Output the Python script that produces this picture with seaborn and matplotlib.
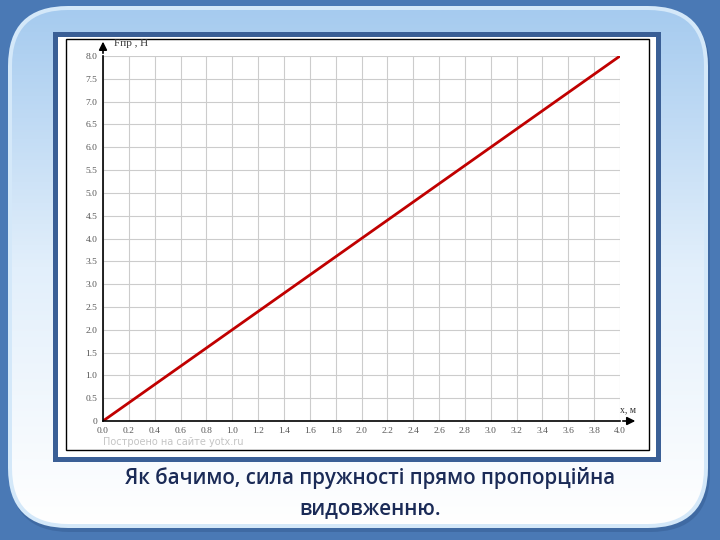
import numpy as np
import pandas as pd
import seaborn as sns
import matplotlib.pyplot as plt
from matplotlib.colors import LinearSegmentedColormap
from matplotlib.patches import FancyBboxPatch, Rectangle

# data: straight line through the origin
x_vals = [0.0, 4.0]
f_vals = [0.0, 8.0]
x_ticks = [round(0.2 * i, 1) for i in range(21)]
y_ticks = [0.5 * i for i in range(17)]
x_labels = [f"{t:.1f}" for t in x_ticks]
y_labels = ["0"] + [f"{t:.1f}" for t in y_ticks[1:]]

caption = "Як бачимо, сила пружності прямо пропорційна\nвидовженню."

df = pd.DataFrame({"x": x_vals, "F": f_vals})

sns.set_theme(style="whitegrid")
plt.rcParams['font.family'] = ['Liberation Serif', 'DejaVu Serif']

W, H = 720, 540
fig = plt.figure(figsize=(7.2, 5.4), dpi=100)
fig.patch.set_facecolor('#4a79b5')

# background layer in pixel coordinates
bg = fig.add_axes([0, 0, 1, 1], zorder=0)
bg.axis('off')

# soft darker shadow under the panel
bg.add_patch(FancyBboxPatch((10, 10), 700, 522, boxstyle="round,pad=0,rounding_size=60",
                            facecolor='#3f6aa3', edgecolor='none', zorder=1))
# light rim
bg.add_patch(FancyBboxPatch((8, 6), 700, 522, boxstyle="round,pad=0,rounding_size=60",
                            facecolor='#d4e8f9', edgecolor='none', zorder=2))
# gradient fill
clip = FancyBboxPatch((12, 10), 692, 514, boxstyle="round,pad=0,rounding_size=56",
                      facecolor='none', edgecolor='none', zorder=2)
bg.add_patch(clip)
grad = np.linspace(0, 1, 256).reshape(-1, 1)
cmap = LinearSegmentedColormap.from_list("g", ['#a6cbef', '#e2effb', '#ffffff'])
im = bg.imshow(grad, aspect='auto', cmap=cmap, extent=[12, 704, 524, 10], zorder=3)
im.set_clip_path(clip)

# dark blue frame and white chart card
bg.add_patch(Rectangle((53, 32), 608, 430, facecolor='#3a5f96', edgecolor='none', zorder=4))
bg.add_patch(Rectangle((58, 37), 598, 420, facecolor='white', edgecolor='none', zorder=5))
bg.add_patch(Rectangle((66, 39), 583, 411, facecolor='white', edgecolor='black',
                       linewidth=1, zorder=6))
bg.set_xlim(0, W)
bg.set_ylim(H, 0)

ax = fig.add_axes([103 / W, 1 - 421 / H, 517 / W, 365 / H], zorder=3)
ax.set_facecolor('none')
sns.lineplot(data=df, x="x", y="F", ax=ax, color='#c00000', linewidth=2)

ax.set_xlim(0, 4.0)
ax.set_ylim(0, 8.0)
ax.set_xticks(x_ticks)
ax.set_xticklabels(x_labels)
ax.set_yticks(y_ticks)
ax.set_yticklabels(y_labels)
ax.tick_params(axis='both', length=0, labelsize=6.8, labelcolor='#555555', pad=4)
ax.grid(True, color='#cccccc', linewidth=0.8)
ax.set_xlabel("")
ax.set_ylabel("")
for s in ['top', 'right']:
    ax.spines[s].set_visible(False)
for s in ['left', 'bottom']:
    ax.spines[s].set_color('black')
    ax.spines[s].set_linewidth(1.2)

# axis arrows
ax.annotate("", xy=(0, 1.047), xytext=(0, 1.0), xycoords='axes fraction',
            arrowprops=dict(arrowstyle='-|>', color='black', lw=1.2, mutation_scale=12),
            annotation_clip=False)
ax.annotate("", xy=(1.035, 0), xytext=(1.0, 0), xycoords='axes fraction',
            arrowprops=dict(arrowstyle='-|>', color='black', lw=1.2, mutation_scale=12),
            annotation_clip=False)
ax.text(0.022, 1.034, "Fпр , Н", transform=ax.transAxes, fontsize=8, color='#333333',
        ha='left', va='center')
ax.text(1.0, 0.03, "x, м", transform=ax.transAxes, fontsize=7, color='#333333',
        ha='left', va='center')
ax.text(0.0, -0.045, "Построено на сайте yotx.ru", transform=ax.transAxes, fontsize=7,
        color='#c4c4c4', ha='left', va='top', family=['DejaVu Sans'])

fig.text(370 / W, 1 - 493 / H, caption, ha='center', va='center', fontsize=14.8,
         color='#1b2b57', fontweight='semibold', linespacing=1.6,
         family=['Open Sans', 'DejaVu Sans'])

fig.savefig("out.png", dpi=100, facecolor=fig.get_facecolor())
